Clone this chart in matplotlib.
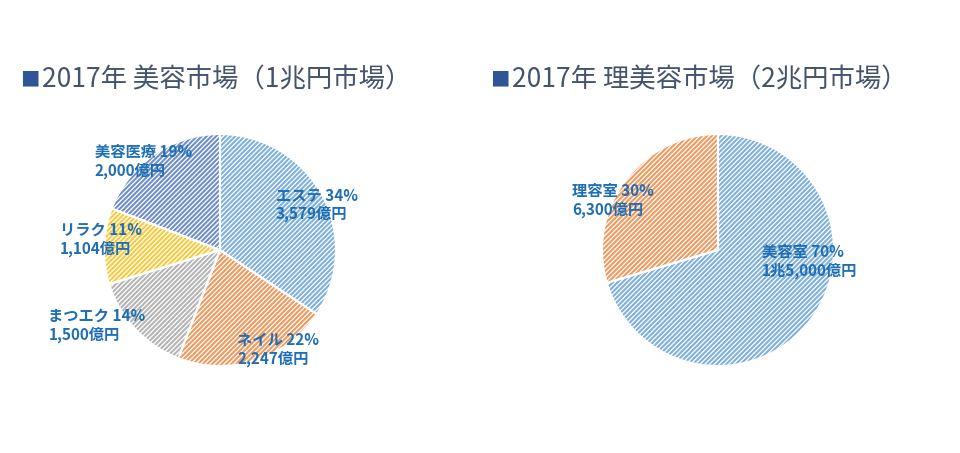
import matplotlib
matplotlib.use("Agg")
import matplotlib.pyplot as plt

plt.rcParams['font.family'] = ['Noto Sans CJK JP']
plt.rcParams['hatch.linewidth'] = 1.5

left_labels = ["エステ", "ネイル", "まつエク", "リラク", "美容医療"]
left_pct = [34, 22, 14, 11, 19]
left_amount = ["3,579億円", "2,247億円", "1,500億円", "1,104億円", "2,000億円"]
left_values = [3579, 2247, 1500, 1104, 2000]
left_colors = ["#7fb0de", "#f29a5e", "#b5b5b5", "#f7cb3d", "#6f8fcc"]

right_labels = ["美容室", "理容室"]
right_pct = [70, 30]
right_amount = ["1兆5,000億円", "6,300億円"]
right_values = [15000, 6300]
right_colors = ["#7fb0de", "#f29a5e"]

W, H = 960, 453
fig = plt.figure(figsize=(W/100, H/100), dpi=100)
label_color = "#1f6fb5"

def draw(cx, cy, r, values, colors, labels, pcts, amts, pos):
    ax = fig.add_axes([(cx-r)/W, 1-(cy+r)/H, 2*r/W, 2*r/H])
    ws, _ = ax.pie(values, colors=['white']*len(values), startangle=90, counterclock=False,
                   wedgeprops=dict(linewidth=0))
    for w, c in zip(ws, colors):
        w.set_hatch('/'*7)
        w.set_edgecolor(c)
    ax.pie(values, startangle=90, counterclock=False,
           wedgeprops=dict(fill=False, edgecolor='white', linewidth=1.5))
    ax.set_xlim(-1, 1); ax.set_ylim(-1, 1)
    for lab, p, a, (x, y) in zip(labels, pcts, amts, pos):
        ax.text(x, y, f"{lab} {p}%\n{a}", color=label_color, fontsize=11, fontweight='bold',
                ha='left', va='center', linespacing=1.2, clip_on=False)
    return ax

draw(220, 250, 116, left_values, left_colors, left_labels, left_pct, left_amount,
     [(0.48, 0.39), (0.15, -0.86), (-1.48, -0.65), (-1.38, 0.09), (-1.08, 0.76)])
draw(718, 250, 116, right_values, right_colors, right_labels, right_pct, right_amount,
     [(0.38, -0.10), (-1.26, 0.43)])

fig.text(20/W, 1-80/H, "■", color="#2f5597", fontsize=14, va='center')
fig.text(42/W, 1-80/H, "2017年 美容市場（1兆円市場）", color="#44546a", fontsize=19, va='center')
fig.text(490/W, 1-80/H, "■", color="#2f5597", fontsize=14, va='center')
fig.text(512/W, 1-80/H, "2017年 理美容市場（2兆円市場）", color="#44546a", fontsize=19, va='center')

fig.savefig("out.png", dpi=100, facecolor='white')
